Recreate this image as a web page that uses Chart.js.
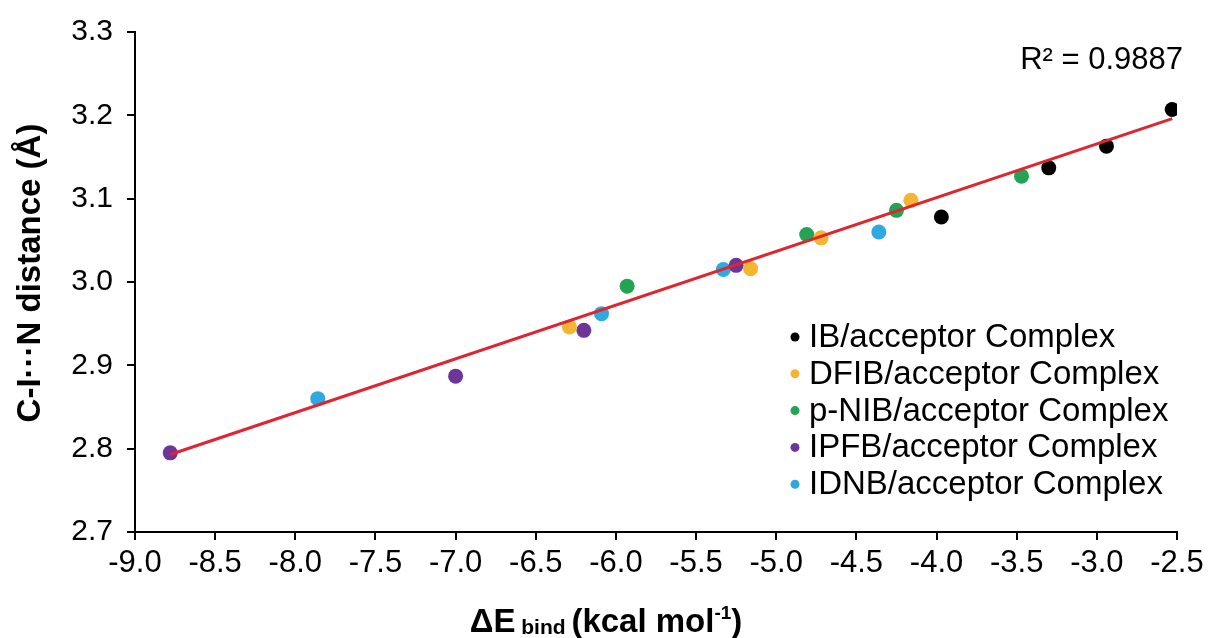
<!DOCTYPE html>
<html>
<head>
<meta charset="utf-8">
<script src="https://cdn.jsdelivr.net/npm/chart.js@4.4.1/dist/chart.umd.min.js"></script>
<style>
  html, body { margin: 0; padding: 0; background: #fff; }
  #wrap { width: 1212px; height: 638px; }
</style>
</head>
<body>
<div id="wrap"><canvas id="grafico" width="1212" height="638"></canvas></div>
<script>
// series: x = ΔE bind (kcal/mol), y = C-I···N distance (Å)
const seriesNames = ["IB/acceptor Complex", "DFIB/acceptor Complex", "p-NIB/acceptor Complex", "IPFB/acceptor Complex", "IDNB/acceptor Complex"];
const seriesColors = ["#000000", "#F4B533", "#22A454", "#6E3598", "#2FA9DF"];

const ibX = [-2.53, -2.94, -3.30, -3.97];
const ibY = [3.207, 3.163, 3.137, 3.078];
const dfibX = [-4.16, -4.72, -5.16, -6.29];
const dfibY = [3.098, 3.053, 3.016, 2.946];
const pnibX = [-3.47, -4.25, -4.81, -5.93];
const pnibY = [3.127, 3.086, 3.057, 2.995];
const ipfbX = [-5.25, -6.20, -7.00, -8.78];
const ipfbY = [3.020, 2.942, 2.887, 2.795];
const idnbX = [-4.36, -5.33, -6.09, -7.86];
const idnbY = [3.060, 3.015, 2.962, 2.860];

// linear trendline end points as drawn
const trendX = [-8.78, -2.53];
const trendY = [2.793, 3.196];
const rSquared = "R\u00B2 = 0.9887";

const xTicks = [-9.0, -8.5, -8.0, -7.5, -7.0, -6.5, -6.0, -5.5, -5.0, -4.5, -4.0, -3.5, -3.0, -2.5];
const yTicks = [2.7, 2.8, 2.9, 3.0, 3.1, 3.2, 3.3];

const yTitle = "C-I\u00B7\u00B7\u00B7N distance (\u00C5)";

const FONT = "'Liberation Sans', Arial, sans-serif";
Chart.defaults.font.family = FONT;
Chart.defaults.color = "#000";

function pontos(xs, ys) {
    return xs.map((x, i) => ({ x: x, y: ys[i] }));
}

const allX = [ibX, dfibX, pnibX, ipfbX, idnbX];
const allY = [ibY, dfibY, pnibY, ipfbY, idnbY];

const datasets = seriesNames.map((name, i) => ({
    label: name,
    data: pontos(allX[i], allY[i]),
    backgroundColor: seriesColors[i],
    borderColor: seriesColors[i],
    borderWidth: 0,
    pointRadius: 7.5,
    pointHoverRadius: 7.5,
    showLine: false
}));

datasets.push({
    label: "trend",
    data: pontos(trendX, trendY),
    showLine: true,
    borderColor: "#DE2530",
    borderWidth: 3,
    pointRadius: 0,
    order: -1
});

// legend, R² label and axis titles drawn on the canvas
const extras = {
    id: "extras",
    afterDraw(chart) {
        const ctx = chart.ctx;
        const area = chart.chartArea;
        ctx.save();

        // legend
        ctx.font = "33px " + FONT;
        ctx.textBaseline = "middle";
        ctx.textAlign = "left";
        seriesNames.forEach((name, i) => {
            const y = 337 + i * 36.8;
            ctx.fillStyle = seriesColors[i];
            ctx.beginPath();
            ctx.arc(795, y, 4.5, 0, Math.PI * 2);
            ctx.fill();
            ctx.fillStyle = "#000";
            ctx.fillText(name, 809, y + 1);
        });

        // R²
        ctx.font = "31px " + FONT;
        ctx.textAlign = "right";
        ctx.fillText(rSquared, area.right + 6, 60);

        // y title
        ctx.save();
        ctx.translate(31, (area.top + area.bottom) / 2 - 9);
        ctx.rotate(-Math.PI / 2);
        ctx.textAlign = "center";
        ctx.font = "bold 33px " + FONT;
        ctx.fillText(yTitle, 0, 0);
        ctx.restore();

        // x title with subscript and superscript
        const parts = [
            { t: "\u0394E", f: "bold 33px " + FONT, dy: 0 },
            { t: " bind ", f: "bold 21px " + FONT, dy: 2 },
            { t: "(kcal mol", f: "bold 33px " + FONT, dy: 0 },
            { t: "-1", f: "bold 19px " + FONT, dy: -13 },
            { t: ")", f: "bold 33px " + FONT, dy: 0 }
        ];
        let total = 0;
        parts.forEach(p => { ctx.font = p.f; p.w = ctx.measureText(p.t).width; total += p.w; });
        let x = 606 - total / 2;
        ctx.textAlign = "left";
        ctx.textBaseline = "alphabetic";
        parts.forEach(p => {
            ctx.font = p.f;
            ctx.fillText(p.t, x, 632 + p.dy);
            x += p.w;
        });
        ctx.restore();
    }
};

const ctx = document.getElementById("grafico").getContext("2d");
new Chart(ctx, {
    type: "scatter",
    data: { datasets: datasets },
    options: {
        responsive: false,
        animation: false,
        layout: { padding: { top: 31, right: 35, left: 0, bottom: 0 } },
        plugins: {
            legend: { display: false },
            tooltip: { enabled: false }
        },
        scales: {
            x: {
                type: "linear",
                min: -9,
                max: -2.5,
                afterBuildTicks: s => { s.ticks = xTicks.map(v => ({ value: v })); },
                afterFit: s => { s.height = 106; },
                ticks: {
                    callback: v => v.toFixed(1),
                    font: { size: 31 },
                    color: "#000",
                    padding: 5,
                    maxRotation: 0,
                    autoSkip: false
                },
                grid: { drawOnChartArea: false, drawTicks: true, tickLength: 8, color: "#000", lineWidth: 2 },
                border: { display: true, color: "#000", width: 2 }
            },
            y: {
                type: "linear",
                min: 2.7,
                max: 3.3,
                afterBuildTicks: s => { s.ticks = yTicks.map(v => ({ value: v })); },
                afterFit: s => { s.width = 135; },
                ticks: {
                    callback: v => v.toFixed(1),
                    font: { size: 30 },
                    color: "#000",
                    padding: 14,
                    autoSkip: false
                },
                grid: { drawOnChartArea: false, drawTicks: true, tickLength: 8, color: "#000", lineWidth: 2 },
                border: { display: true, color: "#000", width: 2 }
            }
        }
    },
    plugins: [extras]
});
</script>
</body>
</html>
